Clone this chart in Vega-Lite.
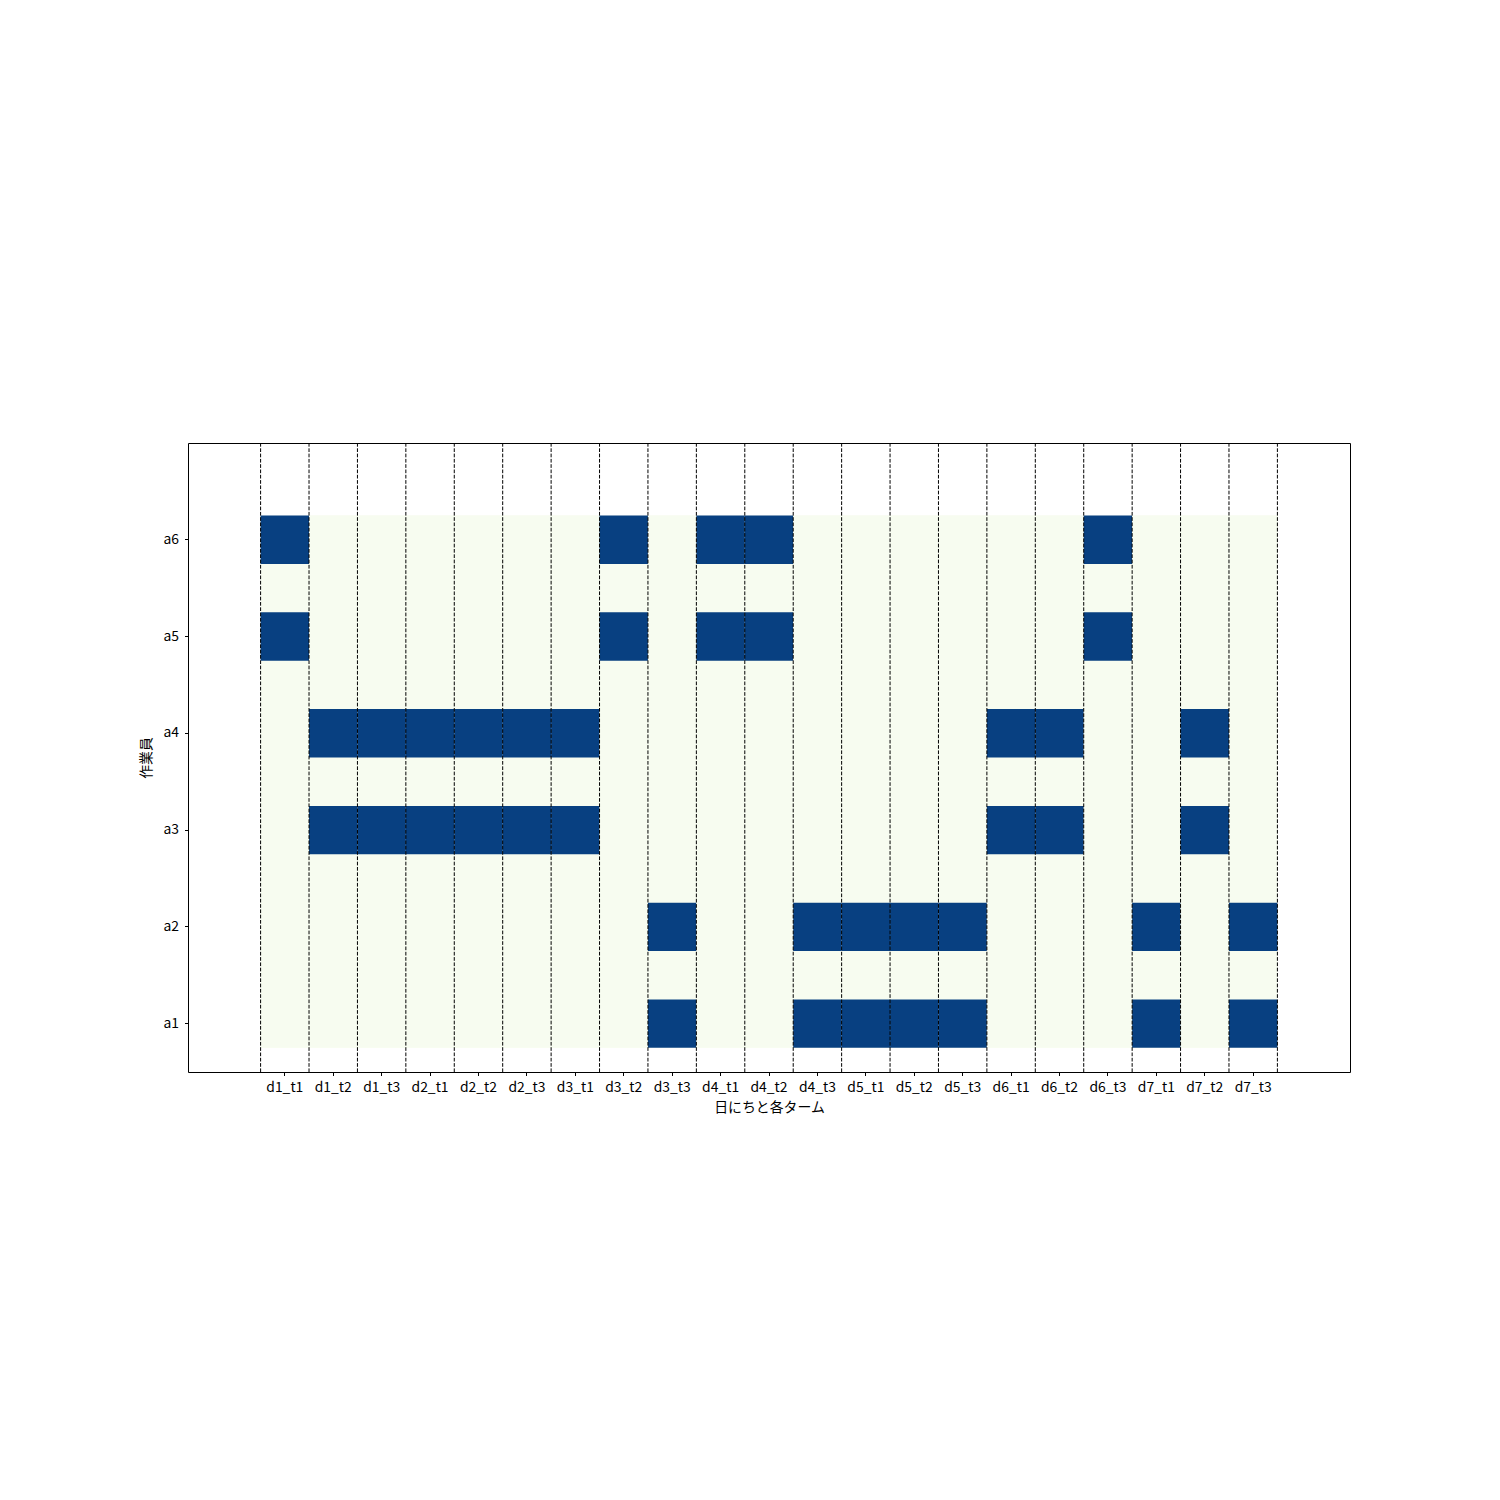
{
  "$schema": "https://vega.github.io/schema/vega-lite/v6.json",
  "width": 1162,
  "height": 629,
  "autosize": {"type": "none"},
  "padding": {"left": 188, "top": 443, "right": 150, "bottom": 428},
  "background": "white",
  "config": {
    "view": {"stroke": "black", "strokeWidth": 1},
    "font": "Noto Sans CJK JP",
    "axis": {
      "domain": false,
      "grid": false,
      "tickColor": "black",
      "tickSize": 3.5,
      "tickWidth": 1,
      "labelColor": "black",
      "labelFontSize": 13.9,
      "labelPadding": 5,
      "titleColor": "black",
      "titleFontSize": 13.9,
      "titleFontWeight": "normal"
    },
    "axisX": {"labelAngle": 0, "titlePadding": 6},
    "axisY": {"titlePadding": 9, "labelPadding": 6}
  },
  "data": {
    "values": [
      {"slot": "d1_t1", "worker": "a1", "on": 0}, {"slot": "d1_t1", "worker": "a2", "on": 0}, {"slot": "d1_t1", "worker": "a3", "on": 0}, {"slot": "d1_t1", "worker": "a4", "on": 0}, {"slot": "d1_t1", "worker": "a5", "on": 1}, {"slot": "d1_t1", "worker": "a6", "on": 1},
      {"slot": "d1_t2", "worker": "a1", "on": 0}, {"slot": "d1_t2", "worker": "a2", "on": 0}, {"slot": "d1_t2", "worker": "a3", "on": 1}, {"slot": "d1_t2", "worker": "a4", "on": 1}, {"slot": "d1_t2", "worker": "a5", "on": 0}, {"slot": "d1_t2", "worker": "a6", "on": 0},
      {"slot": "d1_t3", "worker": "a1", "on": 0}, {"slot": "d1_t3", "worker": "a2", "on": 0}, {"slot": "d1_t3", "worker": "a3", "on": 1}, {"slot": "d1_t3", "worker": "a4", "on": 1}, {"slot": "d1_t3", "worker": "a5", "on": 0}, {"slot": "d1_t3", "worker": "a6", "on": 0},
      {"slot": "d2_t1", "worker": "a1", "on": 0}, {"slot": "d2_t1", "worker": "a2", "on": 0}, {"slot": "d2_t1", "worker": "a3", "on": 1}, {"slot": "d2_t1", "worker": "a4", "on": 1}, {"slot": "d2_t1", "worker": "a5", "on": 0}, {"slot": "d2_t1", "worker": "a6", "on": 0},
      {"slot": "d2_t2", "worker": "a1", "on": 0}, {"slot": "d2_t2", "worker": "a2", "on": 0}, {"slot": "d2_t2", "worker": "a3", "on": 1}, {"slot": "d2_t2", "worker": "a4", "on": 1}, {"slot": "d2_t2", "worker": "a5", "on": 0}, {"slot": "d2_t2", "worker": "a6", "on": 0},
      {"slot": "d2_t3", "worker": "a1", "on": 0}, {"slot": "d2_t3", "worker": "a2", "on": 0}, {"slot": "d2_t3", "worker": "a3", "on": 1}, {"slot": "d2_t3", "worker": "a4", "on": 1}, {"slot": "d2_t3", "worker": "a5", "on": 0}, {"slot": "d2_t3", "worker": "a6", "on": 0},
      {"slot": "d3_t1", "worker": "a1", "on": 0}, {"slot": "d3_t1", "worker": "a2", "on": 0}, {"slot": "d3_t1", "worker": "a3", "on": 1}, {"slot": "d3_t1", "worker": "a4", "on": 1}, {"slot": "d3_t1", "worker": "a5", "on": 0}, {"slot": "d3_t1", "worker": "a6", "on": 0},
      {"slot": "d3_t2", "worker": "a1", "on": 0}, {"slot": "d3_t2", "worker": "a2", "on": 0}, {"slot": "d3_t2", "worker": "a3", "on": 0}, {"slot": "d3_t2", "worker": "a4", "on": 0}, {"slot": "d3_t2", "worker": "a5", "on": 1}, {"slot": "d3_t2", "worker": "a6", "on": 1},
      {"slot": "d3_t3", "worker": "a1", "on": 1}, {"slot": "d3_t3", "worker": "a2", "on": 1}, {"slot": "d3_t3", "worker": "a3", "on": 0}, {"slot": "d3_t3", "worker": "a4", "on": 0}, {"slot": "d3_t3", "worker": "a5", "on": 0}, {"slot": "d3_t3", "worker": "a6", "on": 0},
      {"slot": "d4_t1", "worker": "a1", "on": 0}, {"slot": "d4_t1", "worker": "a2", "on": 0}, {"slot": "d4_t1", "worker": "a3", "on": 0}, {"slot": "d4_t1", "worker": "a4", "on": 0}, {"slot": "d4_t1", "worker": "a5", "on": 1}, {"slot": "d4_t1", "worker": "a6", "on": 1},
      {"slot": "d4_t2", "worker": "a1", "on": 0}, {"slot": "d4_t2", "worker": "a2", "on": 0}, {"slot": "d4_t2", "worker": "a3", "on": 0}, {"slot": "d4_t2", "worker": "a4", "on": 0}, {"slot": "d4_t2", "worker": "a5", "on": 1}, {"slot": "d4_t2", "worker": "a6", "on": 1},
      {"slot": "d4_t3", "worker": "a1", "on": 1}, {"slot": "d4_t3", "worker": "a2", "on": 1}, {"slot": "d4_t3", "worker": "a3", "on": 0}, {"slot": "d4_t3", "worker": "a4", "on": 0}, {"slot": "d4_t3", "worker": "a5", "on": 0}, {"slot": "d4_t3", "worker": "a6", "on": 0},
      {"slot": "d5_t1", "worker": "a1", "on": 1}, {"slot": "d5_t1", "worker": "a2", "on": 1}, {"slot": "d5_t1", "worker": "a3", "on": 0}, {"slot": "d5_t1", "worker": "a4", "on": 0}, {"slot": "d5_t1", "worker": "a5", "on": 0}, {"slot": "d5_t1", "worker": "a6", "on": 0},
      {"slot": "d5_t2", "worker": "a1", "on": 1}, {"slot": "d5_t2", "worker": "a2", "on": 1}, {"slot": "d5_t2", "worker": "a3", "on": 0}, {"slot": "d5_t2", "worker": "a4", "on": 0}, {"slot": "d5_t2", "worker": "a5", "on": 0}, {"slot": "d5_t2", "worker": "a6", "on": 0},
      {"slot": "d5_t3", "worker": "a1", "on": 1}, {"slot": "d5_t3", "worker": "a2", "on": 1}, {"slot": "d5_t3", "worker": "a3", "on": 0}, {"slot": "d5_t3", "worker": "a4", "on": 0}, {"slot": "d5_t3", "worker": "a5", "on": 0}, {"slot": "d5_t3", "worker": "a6", "on": 0},
      {"slot": "d6_t1", "worker": "a1", "on": 0}, {"slot": "d6_t1", "worker": "a2", "on": 0}, {"slot": "d6_t1", "worker": "a3", "on": 1}, {"slot": "d6_t1", "worker": "a4", "on": 1}, {"slot": "d6_t1", "worker": "a5", "on": 0}, {"slot": "d6_t1", "worker": "a6", "on": 0},
      {"slot": "d6_t2", "worker": "a1", "on": 0}, {"slot": "d6_t2", "worker": "a2", "on": 0}, {"slot": "d6_t2", "worker": "a3", "on": 1}, {"slot": "d6_t2", "worker": "a4", "on": 1}, {"slot": "d6_t2", "worker": "a5", "on": 0}, {"slot": "d6_t2", "worker": "a6", "on": 0},
      {"slot": "d6_t3", "worker": "a1", "on": 0}, {"slot": "d6_t3", "worker": "a2", "on": 0}, {"slot": "d6_t3", "worker": "a3", "on": 0}, {"slot": "d6_t3", "worker": "a4", "on": 0}, {"slot": "d6_t3", "worker": "a5", "on": 1}, {"slot": "d6_t3", "worker": "a6", "on": 1},
      {"slot": "d7_t1", "worker": "a1", "on": 1}, {"slot": "d7_t1", "worker": "a2", "on": 1}, {"slot": "d7_t1", "worker": "a3", "on": 0}, {"slot": "d7_t1", "worker": "a4", "on": 0}, {"slot": "d7_t1", "worker": "a5", "on": 0}, {"slot": "d7_t1", "worker": "a6", "on": 0},
      {"slot": "d7_t2", "worker": "a1", "on": 0}, {"slot": "d7_t2", "worker": "a2", "on": 0}, {"slot": "d7_t2", "worker": "a3", "on": 1}, {"slot": "d7_t2", "worker": "a4", "on": 1}, {"slot": "d7_t2", "worker": "a5", "on": 0}, {"slot": "d7_t2", "worker": "a6", "on": 0},
      {"slot": "d7_t3", "worker": "a1", "on": 1}, {"slot": "d7_t3", "worker": "a2", "on": 1}, {"slot": "d7_t3", "worker": "a3", "on": 0}, {"slot": "d7_t3", "worker": "a4", "on": 0}, {"slot": "d7_t3", "worker": "a5", "on": 0}, {"slot": "d7_t3", "worker": "a6", "on": 0}
    ]
  },
  "layer": [
    {
      "data": {"values": [{"note": "background"}]},
      "mark": {"type": "rect", "color": "#f7fcf0"},
      "encoding": {
        "x": {"datum": "d1_t1", "type": "nominal", "bandPosition": 0, "title": "日にちと各ターム",
              "scale": {"domain": ["d1_t1","d1_t2","d1_t3","d2_t1","d2_t2","d2_t3","d3_t1","d3_t2","d3_t3","d4_t1","d4_t2","d4_t3","d5_t1","d5_t2","d5_t3","d6_t1","d6_t2","d6_t3","d7_t1","d7_t2","d7_t3"], "type": "band", "paddingInner": 0, "paddingOuter": 0, "range": [72.6, 1089.4]}},
        "x2": {"datum": "d7_t3", "bandPosition": 1},
        "y": {"datum": "a6", "type": "nominal", "bandPosition": 0.25, "title": "作業員",
              "scale": {"domain": ["a6","a5","a4","a3","a2","a1"], "type": "band", "paddingInner": 0, "paddingOuter": 0.25, "align": 1}},
        "y2": {"datum": "a1", "bandPosition": 0.75}
      }
    },
    {
      "mark": {"type": "rect", "height": {"band": 0.5}},
      "encoding": {
        "x": {"field": "slot", "type": "nominal", "title": "日にちと各ターム"},
        "y": {"field": "worker", "type": "nominal", "title": "作業員"},
        "color": {"field": "on", "type": "quantitative", "scale": {"domain": [0, 1], "range": ["#f7fcf0", "#084081"]}, "legend": null}
      }
    },
    {
      "transform": [{"filter": "datum.worker == 'a1'"}],
      "mark": {"type": "rule", "color": "black", "strokeWidth": 1, "strokeDash": [3.7, 1.6]},
      "encoding": {
        "x": {"field": "slot", "type": "nominal", "bandPosition": 0, "title": "日にちと各ターム"}
      }
    },
    {
      "data": {"values": [{"note": "last boundary"}]},
      "mark": {"type": "rule", "color": "black", "strokeWidth": 1, "strokeDash": [3.7, 1.6]},
      "encoding": {
        "x": {"datum": "d7_t3", "type": "nominal", "bandPosition": 1, "title": "日にちと各ターム"}
      }
    }
  ]
}
